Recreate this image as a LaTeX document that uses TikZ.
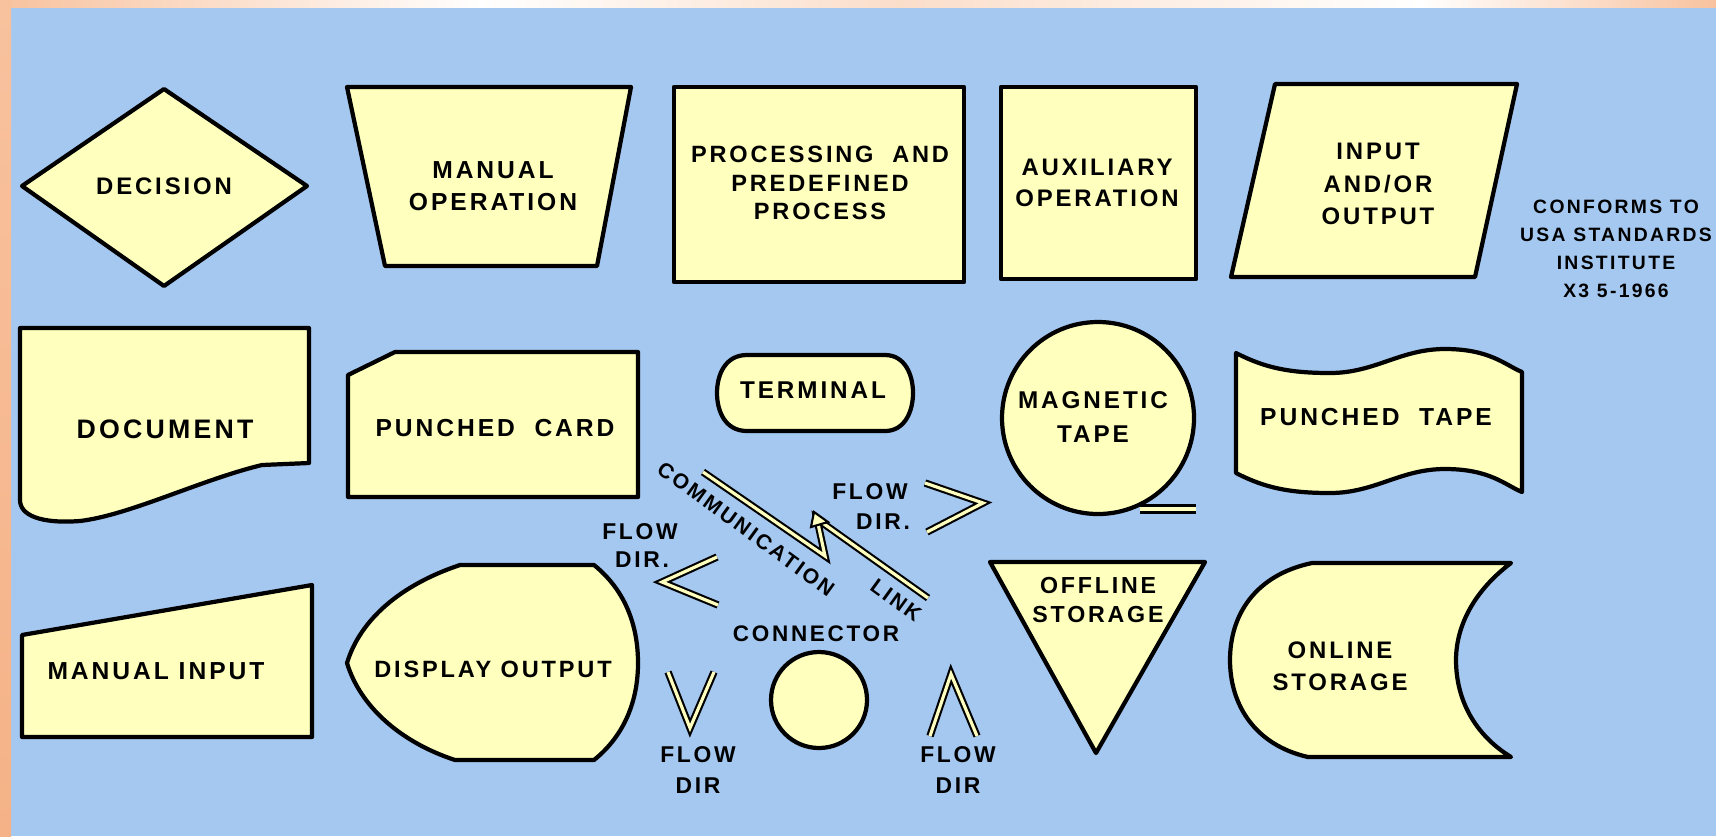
\documentclass[tikz,border=0pt]{standalone}
\usepackage{fontspec}
\setmainfont{Liberation Sans}[LetterSpace=12]
\definecolor{bgblue}{RGB}{165,200,240}
\definecolor{shapefill}{RGB}{255,255,190}
\definecolor{peach}{RGB}{248,194,158}
\definecolor{peachlt}{RGB}{251,222,202}
\definecolor{peachdk}{RGB}{245,178,135}
\newcommand{\lblsize}[2]{\fontsize{#1}{#2}\selectfont\bfseries}
\tikzset{
  shp/.style={draw=black, fill=shapefill, line width=1.2pt, line join=round},
  lbl/.style={align=center, inner sep=0pt, text=black},
  flowline/.style={draw=black, double=shapefill, line width=0.6pt, double distance=0.9pt, line join=miter, line cap=butt},
}
\begin{document}
\begin{tikzpicture}[x=0.01cm, y=-0.01cm]
\useasboundingbox (0,0) rectangle (1716,836);
% background
\fill[bgblue] (0,0) rectangle (1716,836);
\shade[left color=peach, right color=white] (0,0) rectangle (481,7);
\shade[left color=white, right color=peachlt] (481,0) rectangle (900,7);
\shade[left color=peachlt, right color=white] (900,0) rectangle (1420,7);
\shade[left color=white, right color=peach] (1420,0) rectangle (1716,7);
\shade[top color=peach, bottom color=peachdk] (0,0) rectangle (11,836);

% ---- row 1 ----
\draw[shp] (22,186) -- (164,89) -- (307,186) -- (164,286) -- cycle;
\node[lbl, font=\lblsize{6.8}{8}] (dec) at (164,186) {DECISION};

\draw[shp] (347,87) -- (631,87) -- (597,266) -- (385,266) -- cycle;
\node[lbl, font=\lblsize{7}{9}] (manop) at (493,186) {MANUAL\\OPERATION};

\draw[shp] (674,87) rectangle (964,282);
\node[lbl, font=\lblsize{6.7}{8.1}] (proc) at (820,183) {PROCESSING~~AND\\PREDEFINED\\PROCESS};

\draw[shp] (1001,87) rectangle (1196,279);
\node[lbl, font=\lblsize{6.8}{8.8}] (aux) at (1097,183) {AUXILIARY\\OPERATION};

\draw[shp] (1275,84) -- (1517,84) -- (1475,277) -- (1231,277) -- cycle;
\node[lbl, font=\lblsize{6.8}{9.2}] (io) at (1378,184) {INPUT\\AND/OR\\OUTPUT};

\node[lbl, font=\lblsize{5.5}{8}] (conf) at (1616,249) {CONFORMS TO\\USA STANDARDS\\INSTITUTE\\X3 5-1966};

% ---- row 2 ----
\draw[shp] (20,328) -- (309,328) -- (309,463) -- (262,465)
  .. controls (200,480) and (130,515) .. (80,521)
  .. controls (40,524) and (20,515) .. (20,500) -- cycle;
\node[lbl, font=\lblsize{7.6}{9}] (doc) at (165,429) {DOCUMENT};

\draw[shp] (348,375) -- (395,352) -- (638,352) -- (638,497) -- (348,497) -- cycle;
\node[lbl, font=\lblsize{7}{8}] (card) at (495,428) {PUNCHED~~CARD};

\draw[shp] (747,355) -- (885,355) .. controls (905,355) and (913,375) .. (913,393)
  .. controls (913,411) and (905,431) .. (885,431) -- (747,431)
  .. controls (725,431) and (717,411) .. (717,393)
  .. controls (717,375) and (725,355) .. (747,355) -- cycle;
\node[lbl, font=\lblsize{6.9}{8}] (term) at (813,390) {TERMINAL};

\draw[flowline, double distance=1.4pt, line width=0.7pt] (1140,509) -- (1196,509);
\draw[shp] (1098,418) circle[radius=96];
\node[lbl, font=\lblsize{6.9}{9.4}] (mag) at (1093,417) {MAGNETIC\\TAPE};

\draw[shp] (1236,353) .. controls (1265,368) and (1290,373) .. (1330,373)
  .. controls (1375,373) and (1400,349) .. (1445,349)
  .. controls (1490,349) and (1505,365) .. (1522,372)
  -- (1522,492)
  .. controls (1505,485) and (1490,469) .. (1445,469)
  .. controls (1400,469) and (1375,493) .. (1330,493)
  .. controls (1290,493) and (1265,488) .. (1236,473) -- cycle;
\node[lbl, font=\lblsize{7}{8}] (ptape) at (1376,417) {PUNCHED~~TAPE};

% ---- row 3 ----
\draw[shp] (22,635) -- (312,585) -- (312,737) -- (22,737) -- cycle;
\node[lbl, font=\lblsize{7}{8}] (minput) at (156,671) {MANUAL INPUT};

\draw[shp] (460,565) -- (594,565) .. controls (625,590) and (638,625) .. (638,663)
  .. controls (638,700) and (625,735) .. (594,760) -- (455,760)
  .. controls (400,742) and (360,706) .. (347,663)
  .. controls (360,620) and (400,585) .. (460,565) -- cycle;
\node[lbl, font=\lblsize{6.7}{8}] (disp) at (493,669) {DISPLAY OUTPUT};

\draw[shp] (990,562) -- (1205,562) -- (1096,753) -- cycle;
\node[lbl, font=\lblsize{6.6}{8.3}] (offl) at (1098,600) {OFFLINE\\STORAGE};

\draw[shp] (1312,563) -- (1511,563) .. controls (1475,590) and (1456,625) .. (1456,660)
  .. controls (1456,700) and (1475,735) .. (1511,757) -- (1308,757)
  .. controls (1255,745) and (1230,705) .. (1230,660)
  .. controls (1230,615) and (1255,575) .. (1312,563) -- cycle;
\node[lbl, font=\lblsize{6.8}{9.1}] (onl) at (1340,666) {ONLINE\\STORAGE};

\draw[shp] (819,700) circle[radius=48];
\node[lbl, font=\lblsize{6.4}{8}] (connlbl) at (816,634) {CONNECTOR};

% ---- flow directions ----
\coordinate (v1) at (668,672); \coordinate (v2) at (690,728); \coordinate (v3) at (714,672);
\draw[flowline] (v1) -- (v2) -- (v3);
\node[lbl, font=\lblsize{6.5}{8}] (fl1) at (698,755) {FLOW};
\node[lbl, font=\lblsize{6.5}{8}] (dr1) at (698,786) {DIR};

\coordinate (a1) at (930,736); \coordinate (a2) at (951,674); \coordinate (a3) at (977,736);
\draw[flowline] (a1) -- (a2) -- (a3);
\node[lbl, font=\lblsize{6.5}{8}] (fl2) at (958,755) {FLOW};
\node[lbl, font=\lblsize{6.5}{8}] (dr2) at (958,786) {DIR};

\coordinate (l1) at (717,557); \coordinate (l2) at (662,582); \coordinate (l3) at (718,605);
\draw[flowline] (l1) -- (l2) -- (l3);
\node[lbl, font=\lblsize{6.5}{8}] (fl3) at (640,532) {FLOW};
\node[lbl, font=\lblsize{6.5}{8}] (dr3) at (642,560) {DIR.};

\coordinate (r1) at (925,483); \coordinate (r2) at (983,503); \coordinate (r3) at (927,532);
\draw[flowline] (r1) -- (r2) -- (r3);
\node[lbl, font=\lblsize{6.5}{8}] (fl4) at (870,492) {FLOW};
\node[lbl, font=\lblsize{6.5}{8}] (dr4) at (883,522) {DIR.};

% ---- communication link ----
\coordinate (c1) at (703,472); \coordinate (c2) at (825,556);
\coordinate (c3) at (817,519); \coordinate (c4) at (928,598);
\draw[flowline] (c1) -- (c2) -- (c3) -- (c4);
\filldraw[fill=shapefill, draw=black, line width=0.6pt] (811,527) -- (814,512) -- (828,522) -- cycle;
\node[lbl, font=\lblsize{6}{8}, rotate=-36] (comm) at (746,529) {COMMUNICATION};
\node[lbl, font=\lblsize{6}{8}, rotate=-36] (link) at (896,600) {LINK};
\end{tikzpicture}
\end{document}
